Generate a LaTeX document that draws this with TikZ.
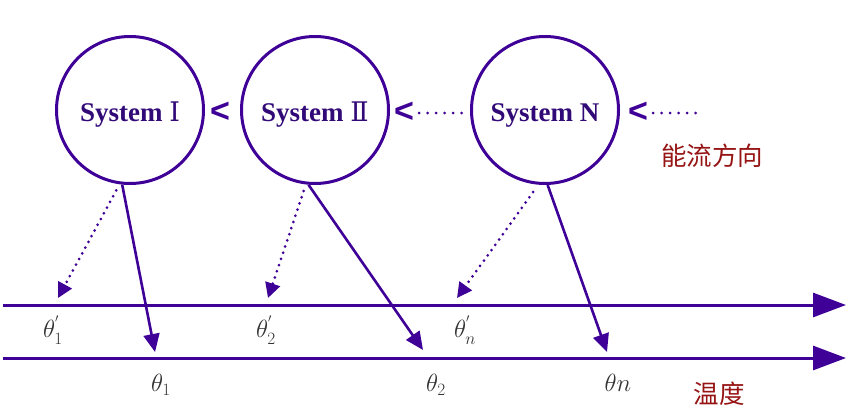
\documentclass[tikz,border=0pt]{standalone}
\usepackage{fontspec}
\setmainfont{Liberation Serif}
\newfontfamily\cjk{Noto Sans CJK SC}
\newfontfamily\numf{DejaVu Serif}
\newfontfamily\sgnf{Liberation Sans}
\usetikzlibrary{arrows.meta}
\definecolor{pur}{RGB}{62,0,150}
\definecolor{ptxt}{RGB}{50,10,120}
\definecolor{dred}{RGB}{150,20,20}
\tikzset{
 sys/.style={circle, draw=pur, line width=3pt, minimum size=147pt, inner sep=0pt, text=ptxt,
   text height=22pt, text depth=0pt,
   font=\fontsize{27}{30}\selectfont\bfseries},
 flow/.style={pur, line width=2.6pt, -{Triangle[length=18pt,width=16pt]}},
 heat/.style={pur, line width=3pt, dash pattern=on 0pt off 6.5pt, line cap=round,
   -{Triangle[length=15pt,width=15pt]}},
 axis/.style={pur, line width=3pt, -{Triangle[length=33pt,width=24pt]}},
 lbl/.style={font=\fontsize{24}{28}\selectfont, text=black!80, inner sep=0pt},
 ltsign/.style={text=pur, font=\sgnf\fontsize{34}{38}\selectfont\bfseries, inner sep=0pt},
 dotrow/.style={pur, line width=3pt, dash pattern=on 0pt off 8.5pt, line cap=round},
 redtxt/.style={text=dred, font=\cjk\fontsize{25.5}{28}\selectfont, inner sep=0pt},
}
\begin{document}
\begin{tikzpicture}[x=1pt,y=-1pt]
\useasboundingbox (0,0) rectangle (848,415);
% systems
\node[sys] (s1) at (130,110) {System {\numf\mdseries Ⅰ}};
\node[sys] (s2) at (315,110) {System {\numf\mdseries Ⅱ}};
\node[sys] (sN) at (545,110) {System N};
% energy flow signs
\node[ltsign] (lt1) at (220,112) {<};
\node[ltsign] (lt2) at (404,112) {<};
\node[ltsign] (lt3) at (638,112) {<};
\coordinate (dend) at (701,113);
\draw[dotrow, shorten <=5pt, shorten >=7pt] (lt2.east |- 0,113) -- (sN.west |- 0,113);
\draw[dotrow, shorten <=5pt] (lt3.east |- 0,113) -- (dend);
\node[redtxt] (nl) at (712,156) {能流方向};
% axes
\coordinate (a1s) at (3,305);
\coordinate (a1e) at (846,305);
\coordinate (a2s) at (3,358);
\coordinate (a2e) at (846,358);
\draw[axis] (a1s) -- (a1e);
\draw[axis] (a2s) -- (a2e);
\node[redtxt] (wd) at (719,394) {温度};
% arrow targets
\coordinate (t1p) at (58,298);
\coordinate (t2p) at (268,298);
\coordinate (tNp) at (457,298);
\coordinate (t1) at (155,352);
\coordinate (t2) at (423,350);
\coordinate (tN) at (607,352);
% heat arrows
\draw[heat, shorten <=7pt] (s1.262) -- (t1p);
\draw[heat, shorten <=7pt] (s2.263) -- (t2p);
\draw[heat, shorten <=9pt] (sN.265) -- (tNp);
\draw[flow] (s1.264) -- (t1);
\draw[flow] (s2.265) -- (t2);
\draw[flow] (sN.272) -- (tN);
% labels
\node[lbl] (l1p) at (53,330) {$\theta_1^{'}$};
\node[lbl] (l2p) at (266,330) {$\theta_2^{'}$};
\node[lbl] (lNp) at (465,330) {$\theta_n^{'}$};
\node[lbl] (l1) at (161,385) {$\theta_1$};
\node[lbl] (l2) at (436,385) {$\theta_2$};
\node[lbl] (lN) at (618,383) {$\theta n$};
\end{tikzpicture}
\end{document}
